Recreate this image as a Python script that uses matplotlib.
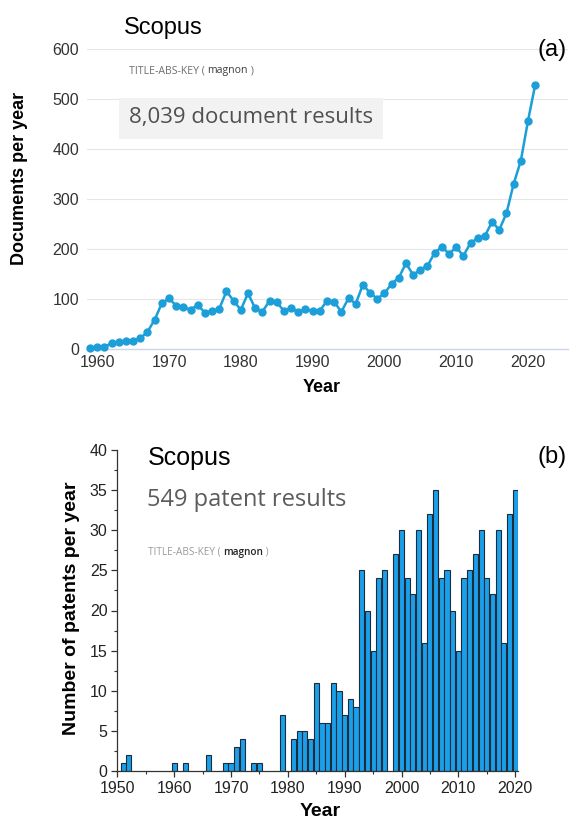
import matplotlib
matplotlib.use("Agg")
import matplotlib.pyplot as plt
from matplotlib.ticker import MultipleLocator

# ---- data: (a) Scopus documents per year ----
doc_years = list(range(1959, 2022))
doc_counts = [3, 4, 4, 13, 15, 17, 17, 22, 35, 59,
              92, 102, 87, 85, 79, 89, 73, 77, 81, 116,
              97, 79, 112, 82, 75, 97, 94, 77, 82, 75,
              80, 77, 77, 97, 95, 75, 102, 91, 129, 113,
              101, 112, 131, 143, 172, 149, 159, 167, 193, 205,
              191, 204, 187, 213, 222, 227, 255, 239, 272, 331,
              377, 457, 529]

# ---- data: (b) patents per year ----
pat_years = [1951, 1952, 1960, 1962, 1966, 1969, 1970, 1971, 1972, 1974, 1975, 1979,
             1981, 1982, 1983, 1984, 1985, 1986, 1987, 1988, 1989, 1990, 1991, 1992,
             1993, 1994, 1995, 1996, 1997,
             1999, 2000, 2001, 2002, 2003, 2004, 2005, 2006, 2007, 2008, 2009, 2010,
             2011, 2012, 2013, 2014, 2015, 2016, 2017, 2018, 2019, 2020]
pat_counts = [1, 2, 1, 1, 2, 1, 1, 3, 4, 1, 1, 7,
              4, 5, 5, 4, 11, 6, 6, 11, 10, 7, 9, 8,
              25, 20, 15, 24, 25,
              27, 30, 24, 22, 30, 16, 32, 35, 24, 25, 20, 15,
              24, 25, 27, 30, 24, 22, 30, 16, 32, 35]

doc_ticks = [1960, 1970, 1980, 1990, 2000, 2010, 2020]
pat_ticks = [1950, 1960, 1970, 1980, 1990, 2000, 2010, 2020]

W, H = 584, 827
plt.rcParams['font.family'] = ['Liberation Sans', 'DejaVu Sans']
fig = plt.figure(figsize=(W / 100, H / 100), dpi=100)


def fx(px):
    return px / W


def fy(py):
    return 1 - py / H


# ================= (a) =================
ax1 = fig.add_axes([fx(87.3), fy(349.3), fx(568 - 87.3), (349.3 - 49.3) / H])
line_c = '#1c9ed8'
ax1.plot(doc_years, doc_counts, color=line_c, lw=1.8, marker='o', ms=5,
         mec=line_c, mfc=line_c, clip_on=False, zorder=3)
ax1.set_ylim(0, 600)
ax1.set_xlim(1958.62, 2025.57)
ax1.set_yticks(range(0, 601, 100))
ax1.set_xticks(doc_ticks)
ax1.grid(axis='y', color='#e6e6e6', lw=0.8)
ax1.set_axisbelow(True)
for s in ['top', 'right', 'left']:
    ax1.spines[s].set_visible(False)
ax1.spines['bottom'].set_color('#ccd6eb')
ax1.spines['bottom'].set_linewidth(1.0)
ax1.tick_params(axis='y', length=0, labelsize=11.5, labelcolor='#333333', pad=6)
ax1.tick_params(axis='x', length=0, labelsize=11.5, labelcolor='#333333', pad=4)

fig.text(fx(20), fy(178), 'Documents per year', rotation=90, ha='center',
         va='center', fontsize=13, fontweight='bold')
fig.text(fx(322), fy(388), 'Year', ha='center', va='center', fontsize=13,
         fontweight='bold')
fig.text(fx(124), fy(28), 'Scopus', ha='left', va='center', fontsize=17)
fig.text(fx(552), fy(50), '(a)', ha='center', va='center', fontsize=17)

t1 = fig.text(fx(129), fy(71), 'TITLE-ABS-KEY ( ', ha='left', va='center',
              fontsize=7.6, color='#6e6e6e', family='Open Sans')
a2 = ax1.annotate('magnon', xy=(1, 0), xycoords=t1, va='bottom', fontsize=7.6,
                  color='#3c3c3c', family='Open Sans')
ax1.annotate(' )', xy=(1, 0), xycoords=a2, va='bottom', fontsize=7.6,
             color='#6e6e6e', family='Open Sans')

fig.text(fx(129), fy(118), '8,039 document results', ha='left', va='center',
         fontsize=16, color='#505050', family='Open Sans',
         bbox=dict(boxstyle='square,pad=0.45', fc='#f2f2f2', ec='none'))

# ================= (b) =================
ax2 = fig.add_axes([fx(117.4), fy(771), fx(518 - 117.4), (771 - 450) / H])
ax2.bar(pat_years, pat_counts, width=0.9, color='#1a9fea', edgecolor='#1d2b3a',
        linewidth=0.8, zorder=2)
ax2.set_xlim(1950, 2020.5)
ax2.set_ylim(0, 40)
ax2.set_xticks(pat_ticks)
ax2.xaxis.set_minor_locator(MultipleLocator(5))
ax2.yaxis.set_major_locator(MultipleLocator(5))
ax2.yaxis.set_minor_locator(MultipleLocator(2.5))
for s in ['top', 'right']:
    ax2.spines[s].set_visible(False)
for s in ['left', 'bottom']:
    ax2.spines[s].set_color('#333333')
    ax2.spines[s].set_linewidth(0.9)
ax2.tick_params(which='major', direction='out', length=4, width=0.9,
                labelsize=11.5, labelcolor='#222222', color='#333333', pad=3)
ax2.tick_params(which='minor', direction='out', length=2.5, width=0.8,
                color='#333333')

fig.text(fx(72), fy(608), 'Number of patents per year', rotation=90,
         ha='center', va='center', fontsize=14, fontweight='bold')
fig.text(fx(320), fy(812), 'Year', ha='center', va='center', fontsize=14,
         fontweight='bold')
fig.text(fx(148), fy(458), 'Scopus', ha='left', va='center', fontsize=18)
fig.text(fx(552), fy(457), '(b)', ha='center', va='center', fontsize=17)
fig.text(fx(147), fy(500), '549 patent results', ha='left', va='center',
         fontsize=17, color='#5c5c5c', family='Open Sans')
b1 = fig.text(fx(148), fy(552), 'TITLE-ABS-KEY ( ', ha='left', va='center',
              fontsize=7.2, color='#9a9a9a', family='Open Sans')
b2 = ax2.annotate('magnon', xy=(1, 0), xycoords=b1, va='bottom', fontsize=7.2,
                  color='#222222', fontweight='semibold', family='Open Sans')
ax2.annotate(' )', xy=(1, 0), xycoords=b2, va='bottom', fontsize=7.2,
             color='#9a9a9a', family='Open Sans')

fig.savefig('out.png', dpi=100)
